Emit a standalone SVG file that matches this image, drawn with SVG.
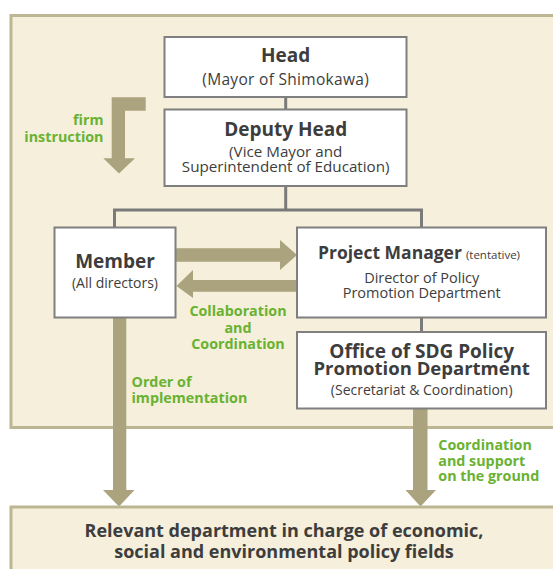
<svg xmlns="http://www.w3.org/2000/svg" width="553" height="569" viewBox="0 0 553 569">
<style>
.panel{fill:#f5efdb;stroke:#bcb693;stroke-width:3}
.box{fill:#ffffff;stroke:#7f7f7f;stroke-width:2}
.conn{stroke:#7a7a7a;stroke-width:3;fill:none}
.arrow{fill:#aaa37e}
text{font-family:"Open Sans","Noto Sans","Liberation Sans",sans-serif;fill:#3d3d3d}
.b{font-weight:700}
.g{fill:#69b232;font-weight:700;font-size:14.3px}
.c{text-anchor:middle}
</style>
<rect width="553" height="569" fill="#ffffff"/>
<rect id="outer-panel" class="panel" x="11" y="15.5" width="560" height="412"/>

<g id="connectors">
  <line class="conn" x1="285.7" y1="97" x2="285.7" y2="110"/>
  <polyline class="conn" points="114.5,228 114.5,210 285.7,210 421.5,210 421.5,228"/>
  <line class="conn" x1="285.7" y1="186" x2="285.7" y2="210"/>
  <line class="conn" x1="421.5" y1="317" x2="421.5" y2="332"/>
  <polygon class="arrow" points="111.7,97.3 145.7,97.3 145.7,110.7 125,110.7 125,158.3 135,158.3 119,173.5 103.3,158.3 111.7,158.3"/>
  <polygon class="arrow" points="176,248.3 280,248.3 280,240 297,255 280,270 280,261.7 176,261.7"/>
  <polygon class="arrow" points="297,280 193,280 193,270 176.5,286 193,298 193,291.7 297,291.7"/>
  <polygon class="arrow" points="113,318 126.3,318 126.3,490 134.5,490 119,506.5 103,490 113,490"/>
  <polygon class="arrow" points="413,409 427.5,409 427.5,490 436,490 420.5,506.5 405.5,490 413,490"/>
</g>

<g id="bottom-panel">
  <rect class="panel" x="11" y="507" width="560" height="80"/>
  <text class="b c" x="284" y="537" font-size="18">Relevant department in charge of economic,</text>
  <text class="b c" x="284" y="558" font-size="18">social and environmental policy fields</text>
</g>

<g id="head">
  <rect class="box" x="164.5" y="37" width="242" height="60"/>
  <text class="b c" x="285.7" y="61.7" font-size="19">Head</text>
  <text class="c" x="285.7" y="85" font-size="15.5" letter-spacing="0.3">(Mayor of Shimokawa)</text>
</g>

<g id="deputy-head">
  <rect class="box" x="164.5" y="109.5" width="242" height="76.5"/>
  <text class="b c" x="285.7" y="136" font-size="19">Deputy Head</text>
  <text class="c" x="285.7" y="156.7" font-size="15.2">(Vice Mayor and</text>
  <text class="c" x="285.7" y="171.7" font-size="15.2">Superintendent of Education)</text>
</g>

<g id="member">
  <rect class="box" x="54.5" y="227.5" width="121" height="90"/>
  <text class="b c" x="115" y="268" font-size="19">Member</text>
  <text class="c" x="115" y="288" font-size="14">(All directors)</text>
</g>

<g id="project-manager">
  <rect class="box" x="297" y="227.5" width="249" height="90"/>
  <text x="318" y="259.3" font-size="17.5"><tspan class="b">Project Manager</tspan><tspan font-size="11.5" dx="4">(tentative)</tspan></text>
  <text class="c" x="421.7" y="283.3" font-size="14.5">Director of Policy</text>
  <text class="c" x="421.7" y="298.3" font-size="14.5">Promotion Department</text>
</g>

<g id="office-sdg">
  <rect class="box" x="297" y="332" width="249" height="76.5"/>
  <text class="b c" x="421.7" y="358.3" font-size="19">Office of SDG Policy</text>
  <text class="b c" x="421.7" y="375" font-size="18.5">Promotion Department</text>
  <text class="c" x="421.7" y="395" font-size="14">(Secretariat &amp; Coordination)</text>
</g>

<g id="labels">
  <text class="g" x="103.5" y="125" text-anchor="end">firm</text>
  <text class="g" x="103.5" y="141.7" text-anchor="end">instruction</text>
  <text class="g c" x="238" y="316">Collaboration</text>
  <text class="g c" x="238" y="332.5">and</text>
  <text class="g c" x="238" y="348.5">Coordination</text>
  <text class="g" x="131.5" y="387.3">Order of</text>
  <text class="g" x="131.5" y="403.3">implementation</text>
  <text class="g" x="438.3" y="450">Coordination</text>
  <text class="g" x="438.3" y="465.5">and support</text>
  <text class="g" x="438.3" y="481">on the ground</text>
</g>
</svg>
